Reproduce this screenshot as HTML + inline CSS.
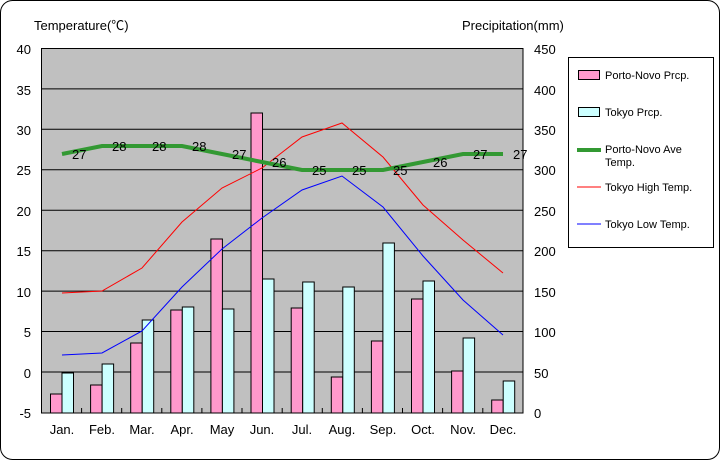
<!DOCTYPE html>
<html><head><meta charset="utf-8"><style>
html,body{margin:0;padding:0;background:#fff}
svg{display:block;font-family:"Liberation Sans","Noto Sans CJK JP",sans-serif}
</style></head><body>
<svg width="720" height="460" viewBox="0 0 720 460" xmlns="http://www.w3.org/2000/svg">
<rect x="0.5" y="0.5" width="719" height="459" rx="12" fill="#fff" stroke="#000"/>
<text x="34" y="30" font-size="13">Temperature(℃)</text>
<text x="462" y="30" font-size="13">Precipitation(mm)</text>
<rect x="41.5" y="48.5" width="481.5" height="364.5" fill="#c0c0c0" stroke="#000"/>
<g stroke="#000" stroke-width="1">
<line x1="41.5" x2="523" y1="88.9" y2="88.9"/><line x1="41.5" x2="523" y1="129.3" y2="129.3"/>
<line x1="41.5" x2="523" y1="169.8" y2="169.8"/><line x1="41.5" x2="523" y1="210.2" y2="210.2"/>
<line x1="41.5" x2="523" y1="250.7" y2="250.7"/><line x1="41.5" x2="523" y1="291.1" y2="291.1"/>
<line x1="41.5" x2="523" y1="331.5" y2="331.5"/><line x1="41.5" x2="523" y1="372" y2="372"/>
</g>
<g font-size="13" text-anchor="end">
<text x="31" y="54">40</text><text x="31" y="95">35</text><text x="31" y="135">30</text><text x="31" y="175">25</text><text x="31" y="216">20</text><text x="31" y="256">15</text><text x="31" y="297">10</text><text x="31" y="337">5</text><text x="31" y="378">0</text><text x="31" y="418">-5</text>
</g>
<g font-size="13">
<text x="534" y="54">450</text><text x="534" y="95">400</text><text x="534" y="135">350</text><text x="534" y="175">300</text><text x="534" y="216">250</text><text x="534" y="256">200</text><text x="534" y="297">150</text><text x="534" y="337">100</text><text x="534" y="378">50</text><text x="534" y="418">0</text>
</g>
<g stroke="#000" fill="#ff99cc">
<rect x="50.5" y="394" width="11.5" height="19"/>
<rect x="90.6" y="385" width="11.5" height="28"/>
<rect x="130.7" y="343" width="11.5" height="70"/>
<rect x="170.8" y="310" width="11.5" height="103"/>
<rect x="210.9" y="239" width="11.5" height="174"/>
<rect x="251" y="113" width="11.5" height="300"/>
<rect x="291.2" y="308" width="11.5" height="105"/>
<rect x="331.3" y="377" width="11.5" height="36"/>
<rect x="371.4" y="341" width="11.5" height="72"/>
<rect x="411.5" y="299" width="11.5" height="114"/>
<rect x="451.6" y="371" width="11.5" height="42"/>
<rect x="491.7" y="400" width="11.5" height="13"/>
</g>
<g stroke="#000" fill="#ccffff">
<rect x="62" y="373" width="11.5" height="40"/>
<rect x="102.1" y="364" width="11.5" height="49"/>
<rect x="142.2" y="320" width="11.5" height="93"/>
<rect x="182.3" y="307" width="11.5" height="106"/>
<rect x="222.4" y="309" width="11.5" height="104"/>
<rect x="262.5" y="279" width="11.5" height="134"/>
<rect x="302.7" y="282" width="11.5" height="131"/>
<rect x="342.8" y="287" width="11.5" height="126"/>
<rect x="382.9" y="243" width="11.5" height="170"/>
<rect x="423" y="281" width="11.5" height="132"/>
<rect x="463.1" y="338" width="11.5" height="75"/>
<rect x="503.2" y="381" width="11.5" height="32"/>
</g>
<g stroke="#000"><line x1="81.6" x2="81.6" y1="408" y2="413"/><line x1="121.7" x2="121.7" y1="408" y2="413"/><line x1="161.8" x2="161.8" y1="408" y2="413"/><line x1="201.9" x2="201.9" y1="408" y2="413"/><line x1="242" x2="242" y1="408" y2="413"/><line x1="282.2" x2="282.2" y1="408" y2="413"/><line x1="322.3" x2="322.3" y1="408" y2="413"/><line x1="362.4" x2="362.4" y1="408" y2="413"/><line x1="402.5" x2="402.5" y1="408" y2="413"/><line x1="442.6" x2="442.6" y1="408" y2="413"/><line x1="482.8" x2="482.8" y1="408" y2="413"/></g>
<polyline fill="none" stroke="#ff0000" stroke-width="1" points="62,293 102,291 142,268 182,222 222,188 262,168 302,137 342,123 383,157 423,205 463,240 503,273"/>
<polyline fill="none" stroke="#0000ff" stroke-width="1" points="62,355 102,353 142,331 182,287 222,249 262,218 302,190 342,176 383,207 423,256 463,300 503,335"/>
<polyline fill="none" stroke="#339933" stroke-width="4" points="62,154 102,146 142,146 182,146 222,154 262,162 302,170 342,170 383,170 423,162 463,154 503,154"/>
<g font-size="13">
<text x="72" y="159">27</text><text x="112" y="151">28</text><text x="152" y="151">28</text><text x="192" y="151">28</text><text x="232" y="159">27</text><text x="272" y="167">26</text><text x="312" y="175">25</text><text x="352" y="175">25</text><text x="393" y="175">25</text><text x="433" y="167">26</text><text x="473" y="159">27</text><text x="513" y="159">27</text>
</g>
<g font-size="13" text-anchor="middle">
<text x="62" y="434">Jan.</text><text x="102" y="434">Feb.</text><text x="142" y="434">Mar.</text><text x="182" y="434">Apr.</text><text x="222" y="434">May</text><text x="262" y="434">Jun.</text><text x="302" y="434">Jul.</text><text x="342" y="434">Aug.</text><text x="383" y="434">Sep.</text><text x="423" y="434">Oct.</text><text x="463" y="434">Nov.</text><text x="503" y="434">Dec.</text>
</g>
<rect x="568.5" y="57.5" width="145" height="190" fill="#fff" stroke="#000"/>
<g font-size="11">
<rect x="578.5" y="70.5" width="21" height="9" fill="#ff99cc" stroke="#000"/>
<text x="605" y="79">Porto-Novo Prcp.</text>
<rect x="578.5" y="107.5" width="21" height="9" fill="#ccffff" stroke="#000"/>
<text x="605" y="116">Tokyo Prcp.</text>
<line x1="577" x2="601" y1="150" y2="150" stroke="#339933" stroke-width="4"/>
<text x="605" y="153">Porto-Novo Ave</text><text x="605" y="166">Temp.</text>
<line x1="577" x2="601" y1="187" y2="187" stroke="#ff0000"/>
<text x="605" y="191">Tokyo High Temp.</text>
<line x1="577" x2="601" y1="224" y2="224" stroke="#0000ff"/>
<text x="605" y="228">Tokyo Low Temp.</text>
</g>
</svg>
</body></html>
